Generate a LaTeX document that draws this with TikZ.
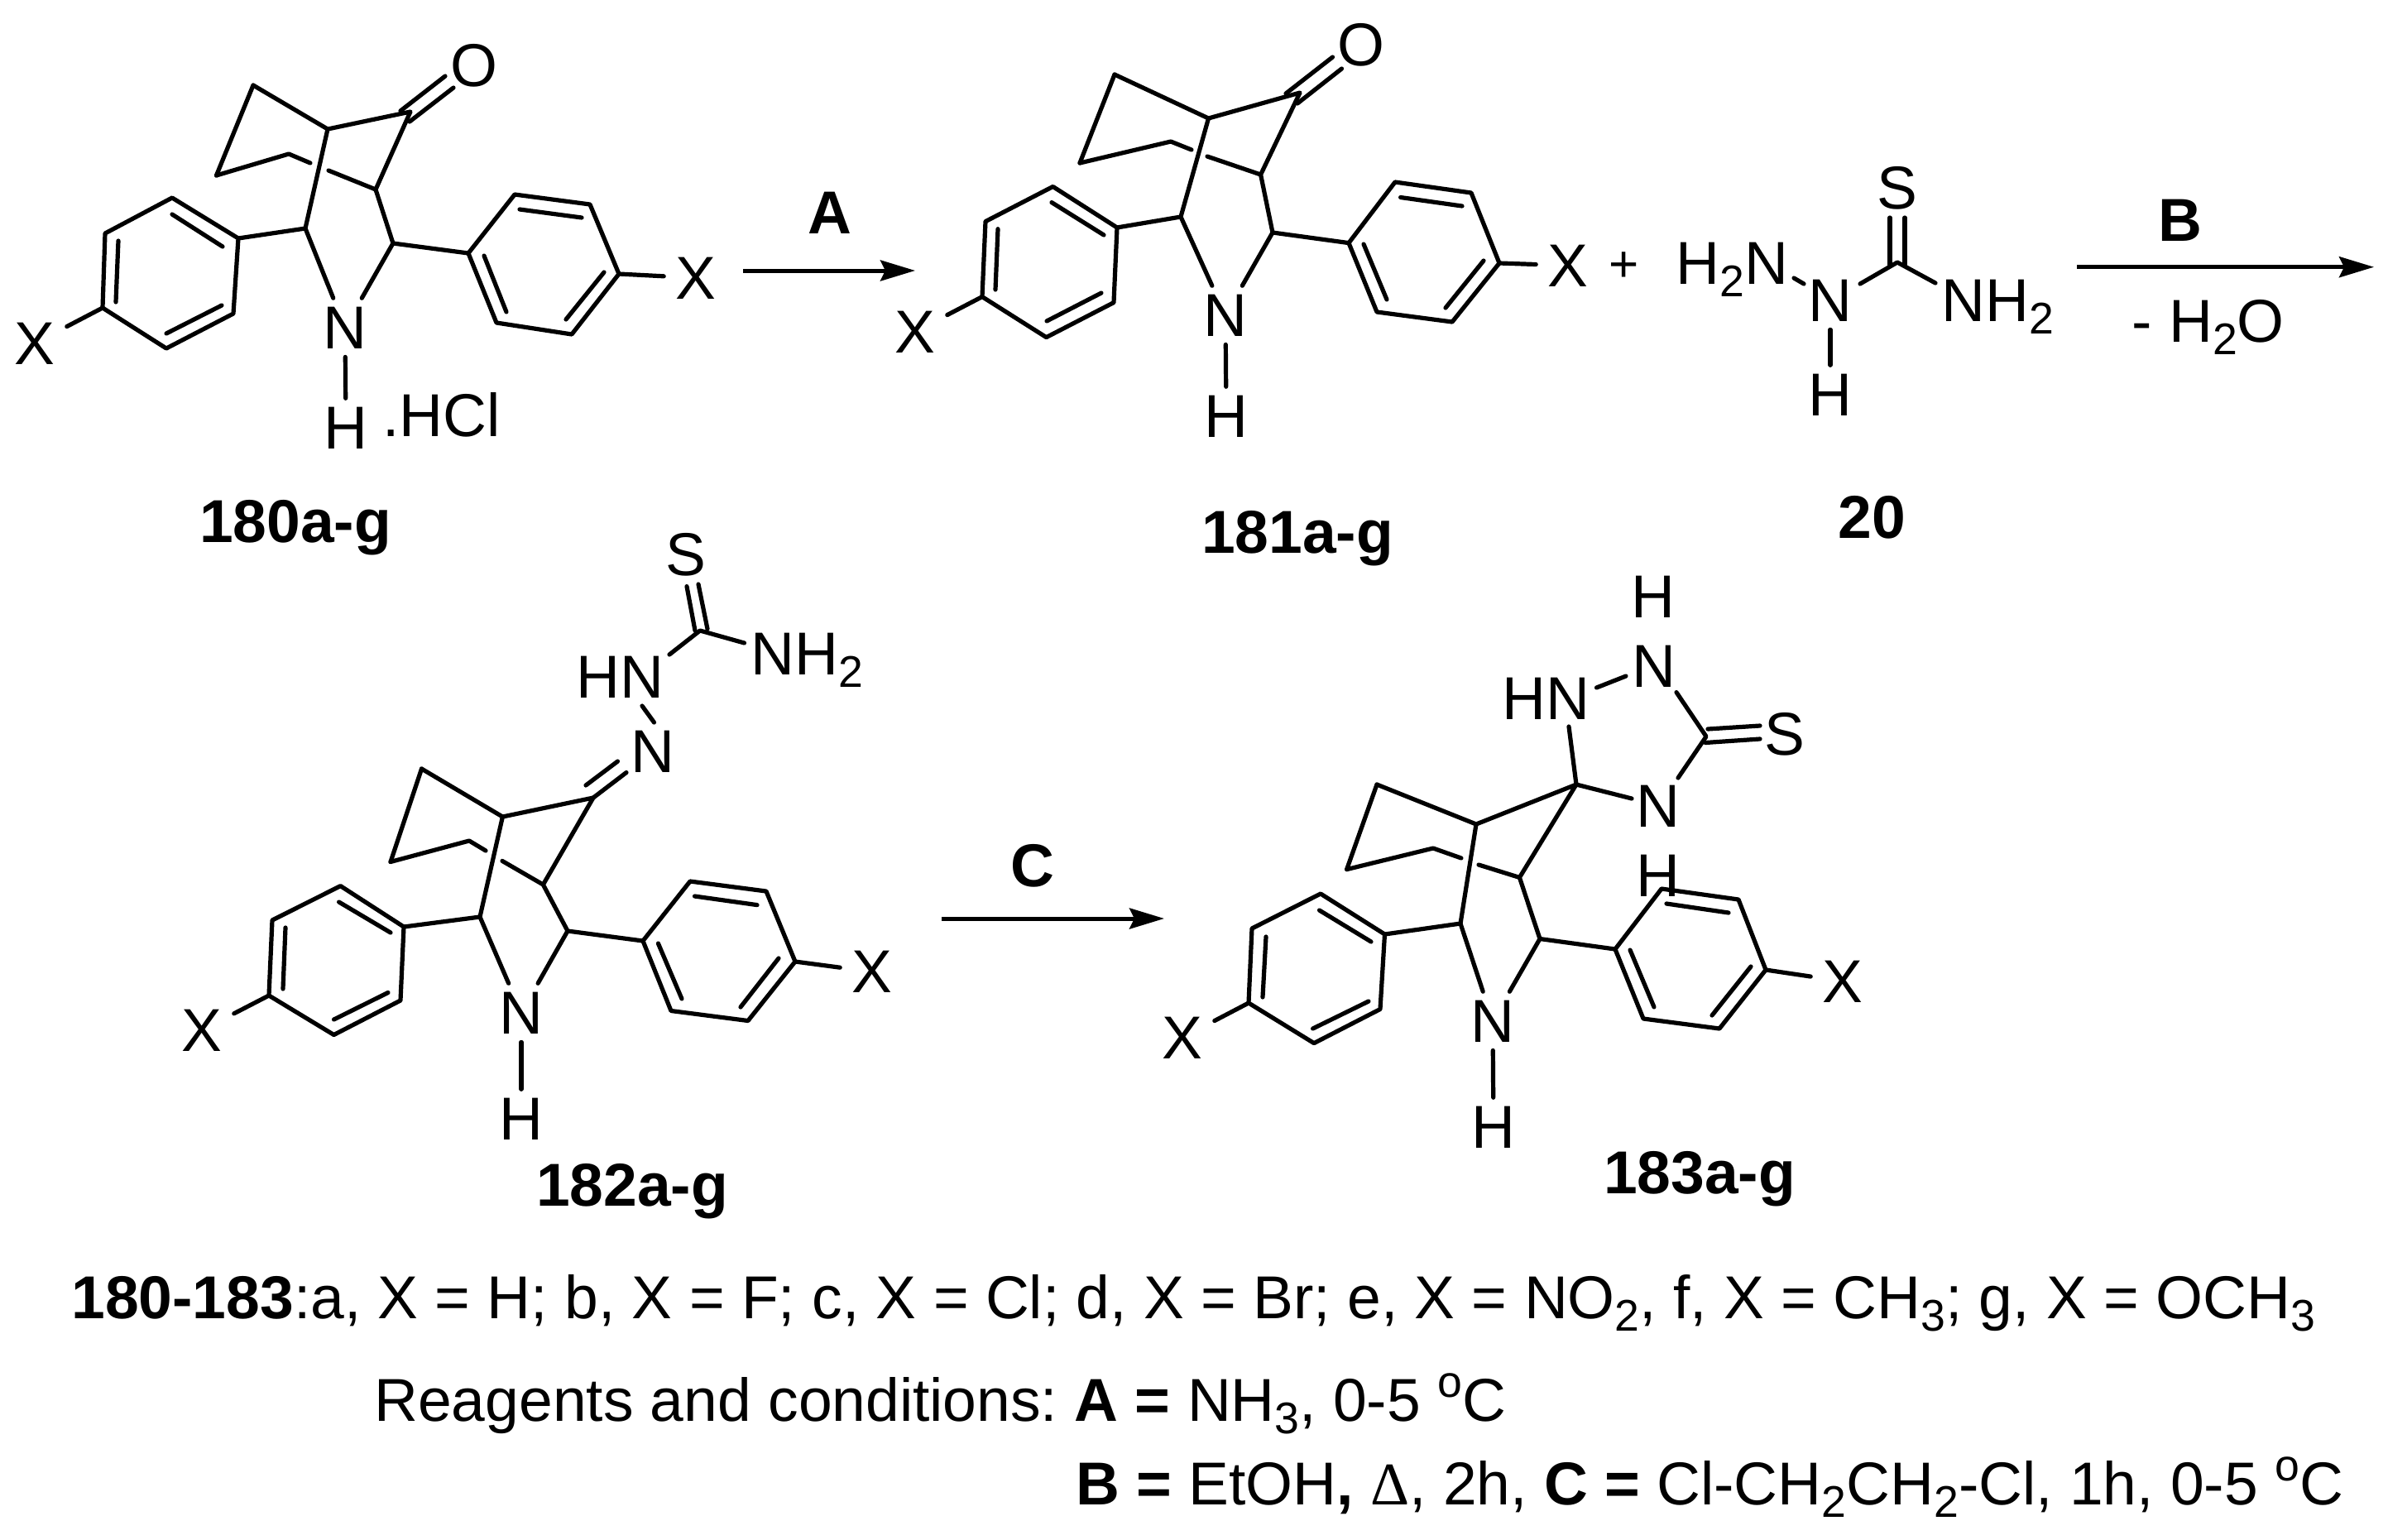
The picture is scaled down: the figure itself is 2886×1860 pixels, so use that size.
\documentclass[tikz,border=0pt]{standalone}
\usepackage{fontspec}
\setmainfont[Kerning=Off]{Liberation Sans}
\newfontfamily\symbf{Liberation Serif}
\usetikzlibrary{arrows.meta}
\newcommand\chemfs{\fontsize{36.6}{44}\selectfont\frenchspacing}
\newcommand\sbs[1]{\raisebox{-7.5pt}{\fontsize{26.8}{30}\selectfont #1}}
\newcommand\degr{\raisebox{14.5pt}{\fontsize{26.8}{30}\selectfont o}}
\tikzset{
  bond/.style={line width=2.6pt,line cap=round,line join=round,black},
  rxn/.style={line width=2.5pt,black,-{Stealth[length=21pt,width=12.5pt,inset=3pt]}},
  atom/.style={font=\chemfs,inner xsep=7pt,inner ysep=5pt,anchor=base},
  lbl/.style={font=\chemfs,inner sep=0pt,anchor=base west},
  num/.style={font=\chemfs\bfseries,inner sep=0pt,anchor=base},
}
% common skeleton: prefix #1; needs t,b,c,p,q,g,r,d,s,e, l1-l6, m1-m6
\newcommand\Core[1]{%
  \draw[bond] (#1t)--(#1b)--(#1c)--(#1d)--(#1e);
  \draw[bond] (#1p)--(#1t);
  \draw[bond] (#1g)--(#1q)--(#1p);
  \draw[bond] (#1r)--(#1d);
  \draw[bond] (#1b)--(#1s)--(#1l1);
  \draw[bond] (#1e)--(#1m1);
  \draw[bond] (#1l1)--(#1l2)--(#1l3)--(#1l4)--(#1l5)--(#1l6)--cycle;
  \draw[bond] (#1m1)--(#1m2)--(#1m3)--(#1m4)--(#1m5)--(#1m6)--cycle;
}
\begin{document}
\begin{tikzpicture}[x=0.5pt,y=-0.5pt]
\useasboundingbox (0,0) rectangle (2886,1860);
\fill[white] (0,0) rectangle (2886,1860);

%% ---------- 180 ----------
\path (306,103) coordinate (at) (396,156) coordinate (ab) (496,135) coordinate (ac)
  (261.5,212) coordinate (ap) (349,186) coordinate (aq) (375,197) coordinate (ag)
  (397,206) coordinate (ar) (454,229) coordinate (ad) (369,276) coordinate (as) (475,294) coordinate (ae)
  (288,288) coordinate (al1) (208,239) coordinate (al2) (127,282) coordinate (al3)
  (124,372) coordinate (al4) (201,421) coordinate (al5) (282,379) coordinate (al6)
  (566,306) coordinate (am1) (622,235) coordinate (am2) (713,247) coordinate (am3)
  (748,331) coordinate (am4) (691,404) coordinate (am5) (600,390) coordinate (am6);
\Core{a}
\draw[bond] (208,259)--(269,298) (143,291)--(140,365) (201,403)--(268,369);
\draw[bond] (628,253)--(703,263) (730,329)--(684,386) (585,309)--(612,377);
\node[atom] (aN) at (417,421) {N};
\node[atom] (aH) at (418,542) {H};
\node[atom] (aO) at (572.5,104) {O};
\node[atom] (aX1) at (42,440) {X};
\node[atom] (aX2) at (841,361) {X};
\node[lbl] (aHCl) at (462,527) {.HCl};
\node[num] (l180) at (357,655) {180a-g};
\draw[bond] (as)--(aN); \draw[bond] (ae)--(aN); \draw[bond] (aN)--(aH);
\draw[bond] (al4)--(aX1); \draw[bond] (am4)--(aX2);
\draw[bond] (484,134)--(538,92) (495,147)--(548,106);

%% ---------- arrow A ----------
\coordinate (A1) at (898,327); \coordinate (A2) at (1106,327);
\draw[rxn] (A1)--(A2);
\node[num] (lA) at (1002.5,282.7) {A};

%% ---------- 181 ----------
\path (1347,90) coordinate (bt) (1460.5,143) coordinate (bb) (1571,112) coordinate (bc)
  (1305,197) coordinate (bp) (1415,171) coordinate (bq) (1440,181) coordinate (bg)
  (1459,189) coordinate (br) (1523.6,211) coordinate (bd) (1427,262) coordinate (bs) (1538,281) coordinate (be)
  (1350,275) coordinate (bl1) (1272.5,225.5) coordinate (bl2) (1191,267.6) coordinate (bl3)
  (1187,358.6) coordinate (bl4) (1264.5,407.6) coordinate (bl5) (1346,365.6) coordinate (bl6)
  (1630,293.6) coordinate (bm1) (1686,220) coordinate (bm2) (1778,233) coordinate (bm3)
  (1812,318) coordinate (bm4) (1755,389) coordinate (bm5) (1664,377) coordinate (bm6);
\Core{b}
\draw[bond] (1271,244.6)--(1334,284) (1206,276.7)--(1203,350) (1265,388)--(1331,354);
\draw[bond] (1692.6,238.5)--(1767,249) (1793,315)--(1747,372) (1648,295)--(1676,362);
\node[atom] (bN) at (1481,406) {N};
\node[atom] (bH) at (1482,528) {H};
\node[atom] (bO) at (1645,79) {O};
\node[atom] (bX1) at (1106,426) {X};
\node[atom] (bX2) at (1895,346) {X};
\node[num] (l181) at (1568,668) {181a-g};
\draw[bond] (bs)--(bN); \draw[bond] (be)--(bN); \draw[bond] (bN)--(bH);
\draw[bond] (bl4)--(bX1); \draw[bond] (bm4)--(bX2);
\draw[bond] (1554,113)--(1610.5,69) (1568,125)--(1621.5,83);

%% ---------- + and 20 ----------
\node[font=\fontsize{31}{33}\selectfont,inner sep=0pt] (plus) at (1963,322.7) {+};
\node[lbl] (tH2N) at (2025,343) {H\sbs{2}N};
\node[atom] (tN) at (2212,388) {N};
\node[atom] (tH) at (2212,502) {H};
\node[lbl] (tNH2) at (2346,388) {NH\sbs{2}};
\node[atom] (tS) at (2293,252) {S};
\coordinate (tC) at (2293,317);
\coordinate (t1) at (2168,336); \coordinate (t2) at (2180,343);
\coordinate (t3) at (2248,343); \coordinate (t4) at (2339,342);
\draw[bond] (t1)--(t2);
\draw[bond] (t3)--(tC)--(t4);
\draw[bond] (tN)--(tH);
\draw[bond] (2284,263)--(2284,320) (2302,263)--(2302,320);
\node[num] (l20) at (2262,650) {20};

%% ---------- arrow B ----------
\coordinate (B1) at (2510,322.7); \coordinate (B2) at (2869,322.7);
\draw[rxn] (B1)--(B2);
\node[num] (lB) at (2635,291) {B};
\node[lbl] (lH2O) at (2576,413) {- H\sbs{2}O};

%% ---------- 182 ----------
\path (509.5,929) coordinate (ct) (607.4,987) coordinate (cb) (717,964) coordinate (cc)
  (472,1041.5) coordinate (cp) (567,1016) coordinate (cq) (587,1028) coordinate (cg)
  (607,1040.4) coordinate (cr) (656.4,1069) coordinate (cd) (580,1108) coordinate (cs) (686,1125) coordinate (ce)
  (488,1120) coordinate (cl1) (411.5,1070.6) coordinate (cl2) (329,1112) coordinate (cl3)
  (325,1203) coordinate (cl4) (403.5,1250.5) coordinate (cl5) (484,1209) coordinate (cl6)
  (777,1137) coordinate (cm1) (834,1065) coordinate (cm2) (926,1077) coordinate (cm3)
  (961,1162) coordinate (cm4) (904,1233.5) coordinate (cm5) (811,1221.5) coordinate (cm6);
\Core{c}
\draw[bond] (409.6,1090)--(472,1127) (345,1121)--(342,1195) (403.5,1232)--(469,1199.5);
\draw[bond] (839.5,1083)--(915,1093.6) (941,1158)--(895,1217) (795.4,1140)--(824,1207);
\node[atom] (cN) at (630,1249) {N};
\node[atom] (cH) at (630,1377) {H};
\node[atom] (cX1) at (244,1270) {X};
\node[atom] (cX2) at (1054,1199.5) {X};
\draw[bond] (cs)--(cN); \draw[bond] (ce)--(cN); \draw[bond] (cN)--(cH);
\draw[bond] (cl4)--(cX1); \draw[bond] (cm4)--(cX2);
\node[atom] (cN2) at (789,933.5) {N};
\node[lbl] (cHN) at (696,843) {HN};
\node[lbl] (cNH2) at (907,815.5) {NH\sbs{2}};
\node[atom] (cS) at (829,695) {S};
\coordinate (cC) at (846,762);
\coordinate (c1) at (899.5,777); \coordinate (c2) at (809,791);
\coordinate (c3) at (776,853); \coordinate (c4) at (790.5,873);
\draw[bond] (c2)--(cC)--(c1);
\draw[bond] (c3)--(c4);
\draw[bond] (cc)--(757,933.5) (708,949)--(746.5,920);
\draw[bond] (830,708.6)--(840,762) (844,706)--(855,760);
\node[num] (l182) at (764,1457) {182a-g};

%% ---------- arrow C ----------
\coordinate (C1) at (1138,1110); \coordinate (C2) at (1407,1110);
\draw[rxn] (C1)--(C2);
\node[num] (lC) at (1248,1071) {C};

%% ---------- 183 ----------
\path (1664,948) coordinate (dt) (1784,996) coordinate (db) (1905,948) coordinate (dc)
  (1627.6,1050.6) coordinate (dp) (1732,1025) coordinate (dq) (1766,1037) coordinate (dg)
  (1787,1045) coordinate (dr) (1836.4,1060.4) coordinate (dd) (1765,1116) coordinate (ds) (1861,1134.5) coordinate (de)
  (1673.5,1129) coordinate (dl1) (1596,1080) coordinate (dl2) (1513,1122) coordinate (dl3)
  (1509,1212) coordinate (dl4) (1588,1260.6) coordinate (dl5) (1668,1219.5) coordinate (dl6)
  (1952,1147) coordinate (dm1) (2008,1074) coordinate (dm2) (2101,1087) coordinate (dm3)
  (2134,1172) coordinate (dm4) (2078,1243) coordinate (dm5) (1986,1231) coordinate (dm6);
\Core{d}
\draw[bond] (1594.5,1100)--(1657,1138) (1530,1132)--(1526,1205) (1586.6,1243)--(1654,1210);
\draw[bond] (2014,1092)--(2089,1103) (2116,1168)--(2069,1227) (1970,1148)--(1999,1217);
\node[atom] (dN) at (1804,1259) {N};
\node[atom] (dH) at (1805,1387) {H};
\node[atom] (dX1) at (1429,1279) {X};
\node[atom] (dX2) at (2227,1211) {X};
\draw[bond] (ds)--(dN); \draw[bond] (de)--(dN); \draw[bond] (dN)--(dH);
\draw[bond] (dl4)--(dX1); \draw[bond] (dm4)--(dX2);
\node[atom] (dH2) at (1998,746) {H};
\node[atom] (dN2) at (1999,830) {N};
\node[lbl] (dHN) at (1815,869.5) {HN};
\node[atom] (dS) at (2157,912) {S};
\node[atom] (dN3) at (2004,999) {N};
\node[atom] (dH3) at (2004,1083) {H};
\coordinate (dC) at (2062,890);
\coordinate (d1) at (1929.5,831); \coordinate (d2) at (1965,817);
\coordinate (d3) at (2026,836.6); \coordinate (d4) at (2028,940);
\coordinate (d5) at (1972,965); \coordinate (d6) at (1896,878);
\draw[bond] (d1)--(d2);
\draw[bond] (d3)--(dC)--(d4);
\draw[bond] (d6)--(dc)--(d5);
\draw[bond] (2064,881)--(2127,877) (2061,897.5)--(2127,893);
\node[num] (l183) at (2054,1442) {183a-g};

%% ---------- text ----------
\node[lbl] (line1) at (86,1593) {\textbf{180-183}:a, X = H; b, X = F; c, X = Cl; d, X = Br; e, X = NO\sbs{2}, f, X = CH\sbs{3}; g, X = OCH\sbs{3}};
\node[lbl] (line2) at (452,1717) {Reagents and conditions: \textbf{A =} NH\sbs{3}, 0-5 \degr C};
\node[lbl] (line3) at (1300,1818) {\textbf{B =} EtOH\textbf{,} {\symbf Δ}, 2h, \textbf{C =} Cl-CH\sbs{2}CH\sbs{2}-Cl, 1h, 0-5 \degr C};
\end{tikzpicture}
\end{document}
